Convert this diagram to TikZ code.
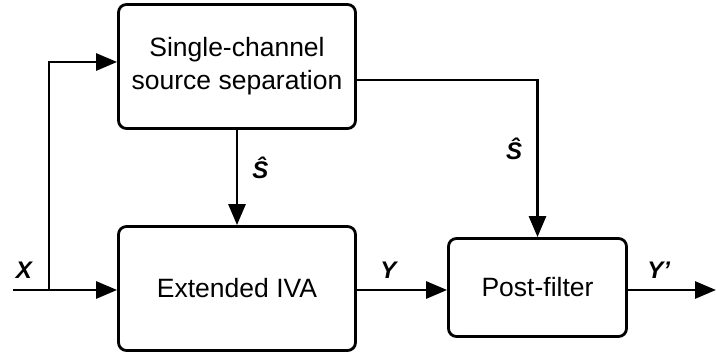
\documentclass[tikz,border=0pt]{standalone}
\usepackage{fontspec}
\setmainfont{Liberation Sans}
\usetikzlibrary{arrows.meta}

\begin{document}
\begin{tikzpicture}[
  x=1pt, y=1pt,
  block/.style={draw, line width=2.8pt, rounded corners=8pt, align=center, inner sep=0pt,
    font=\fontsize{26.5}{33}\selectfont},
  sig/.style={->, line width=2.8pt},
  lab/.style={font=\fontsize{24}{28}\selectfont\bfseries\itshape, inner sep=0pt},
  >={Triangle[length=21pt, width=17pt]}
]
  \useasboundingbox (0,0) rectangle (716,355);

  % Blocks
  \node[block, minimum width=237pt, minimum height=124pt] (ssep) at (237,288.5)
    {Single-channel\\source separation};
  \node[block, minimum width=237pt, minimum height=124pt] (iva) at (237,66.5)
    {Extended IVA};
  \node[block, minimum width=178pt, minimum height=98pt] (post) at (537.5,67.5)
    {Post-filter};

  % Input, branch and output points
  \coordinate (in) at (13,65);
  \coordinate (split) at (49,65);
  \coordinate (out) at (716,65);

  % Input X to both blocks
  \draw[sig] (in) -- (in -| iva.west);
  \draw[sig] (split) |- ([yshift=4.5pt]ssep.west);
  \node[lab] (xlab) at (24,85) {X};

  % Estimated source to Extended IVA
  \draw[sig] (ssep.south) -- node[lab, right=14pt, pos=0.4] (shat1) {\^S} (iva.north);

  % Estimated source to post-filter
  \draw[sig] ([yshift=-13.5pt]ssep.east) -| node[lab, left=14pt, pos=0.72] (shat2) {\^S} (post.north);

  % Y and Y'
  \draw[sig] (iva.east |- in) -- node[lab, above=10pt, pos=0.35] (ylab) {Y} (post.west |- in);
  \draw[sig] (post.east |- in) -- node[lab, above=10pt, pos=0.35] (yplab) {Y'} (out);

\end{tikzpicture}
\end{document}
